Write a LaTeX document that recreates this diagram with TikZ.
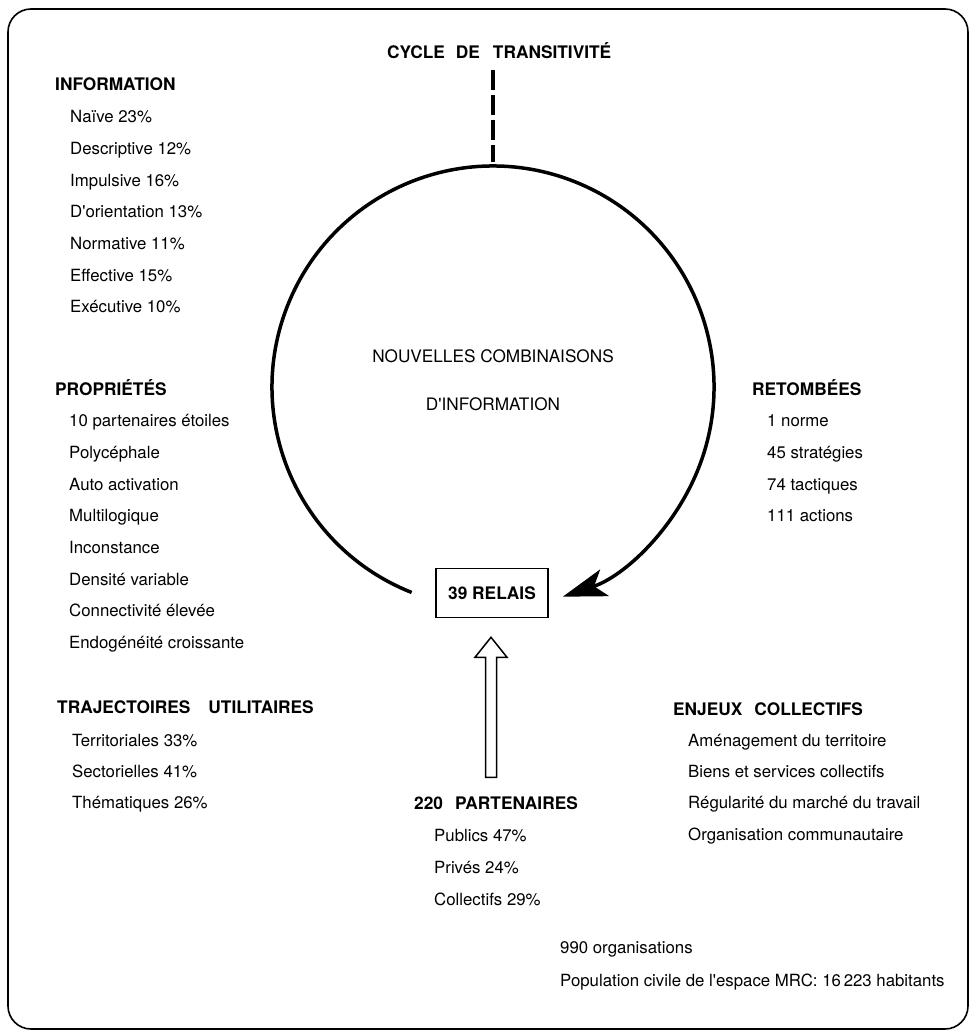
\documentclass[tikz,border=0pt]{standalone}
\usepackage{fontspec}
\setmainfont{TeX Gyre Heros}
\usepackage{tikz}
\usetikzlibrary{arrows.meta}
\usetikzlibrary{calc}

\newcommand{\headfont}{\bfseries\fontsize{17.3}{20}\selectfont}
\newcommand{\itemfont}{\fontsize{16.8}{20}\selectfont}
\newcommand{\wsp}{\hspace{12pt}}
\newcommand{\apo}{\textquotesingle}

\begin{document}
\begin{tikzpicture}[x=1pt,y=-1pt]
  \useasboundingbox (0,0) rectangle (969,1030);
  \draw [line width=1.6pt, rounded corners=23pt] (8,9) rectangle (968,1029);

  % headings
  \begin{scope}[every node/.style={anchor=base west,inner sep=0pt,font=\headfont}]
    \node (cycle) at (387,59) {CYCLE\hspace{11pt}DE\hspace{13pt}TRANSITIVITÉ};
    \node (info) at (55,91) {INFORMATION};
    \node (prop) at (55,395) {PROPRIÉTÉS};
    \node (retomb) at (752,395) {RETOMBÉES};
    \node (traj) at (57,713) {TRAJECTOIRES\hspace{18pt}UTILITAIRES};
    \node (enjeux) at (673,715) {ENJEUX\wsp COLLECTIFS};
    \node (parts) at (414,809) {220\wsp PARTENAIRES};
  \end{scope}

  % lists
  \begin{scope}[every node/.style={anchor=base west,inner sep=0pt,font=\itemfont}]
    \foreach \t [count=\i] in {Naïve 23\%, Descriptive 12\%, Impulsive 16\%,
        D\apo orientation 13\%, Normative 11\%, Effective 15\%, Exécutive 10\%}
      \node (info\i) at (70,{91+31.7*\i}) {\t};
    \foreach \t [count=\i] in {10 partenaires étoiles, Polycéphale, Auto activation,
        Multilogique, Inconstance, Densité variable, Connectivité élevée,
        Endogénéité croissante}
      \node (prop\i) at (69,{395+31.7*\i}) {\t};
    \foreach \t [count=\i] in {1 norme, 45 stratégies, 74 tactiques, 111 actions}
      \node (retomb\i) at (767,{395+31.7*\i}) {\t};
    \foreach \t [count=\i] in {Territoriales 33\%, Sectorielles 41\%, Thématiques 26\%}
      \node (traj\i) at (72,{715+31*\i}) {\t};
    \foreach \t [count=\i] in {Aménagement du territoire, Biens et services collectifs,
        Régularité du marché du travail, Organisation communautaire}
      \node (enjeux\i) at (688,{715+31.3*\i}) {\t};
    \foreach \t [count=\i] in {Publics 47\%, Privés 24\%, Collectifs 29\%}
      \node (parts\i) at (434,{809+32*\i}) {\t};
    \node (orgs) at (560,953) {990 organisations};
    \node (pop) at (560,986) {Population civile de l\apo espace MRC: 16\,223 habitants};
  \end{scope}

  \node (nouv) [anchor=base,inner sep=0pt,font=\fontsize{17.2}{20}\selectfont] at (493,362) {NOUVELLES COMBINAISONS};
  \node (dinfo) [anchor=base,inner sep=0pt,font=\fontsize{17.2}{20}\selectfont] at (493,410) {D\apo INFORMATION};
  \node (relais) [draw,line width=1.6pt,minimum width=112pt,minimum height=49pt,font=\headfont] at (492,593) {39 RELAIS};

  % cycle
  \coordinate (c) at (493,387);
  \draw [line width=3.5pt, -{Stealth[length=44pt,width=28pt,inset=11pt]}]
    ($(c)+(111.6:221)$) arc [start angle=111.6, end angle=431.6, radius=221];
  \draw [line width=4pt, dash pattern=on 20pt off 5pt]
    ([yshift=-11pt]cycle.south -| c) -- ($(c)+(0,-225)$);

  % hollow arrow
  \coordinate (tip) at ($(relais.south)+(-1,19)$);
  \draw [line width=1.5pt, fill=white] (tip) -- ++(16,20) -- ++(-10.5,0) -- ++(0,120)
    -- ++(-11,0) -- ++(0,-120) -- ++(-10.5,0) -- cycle;
\end{tikzpicture}
\end{document}
